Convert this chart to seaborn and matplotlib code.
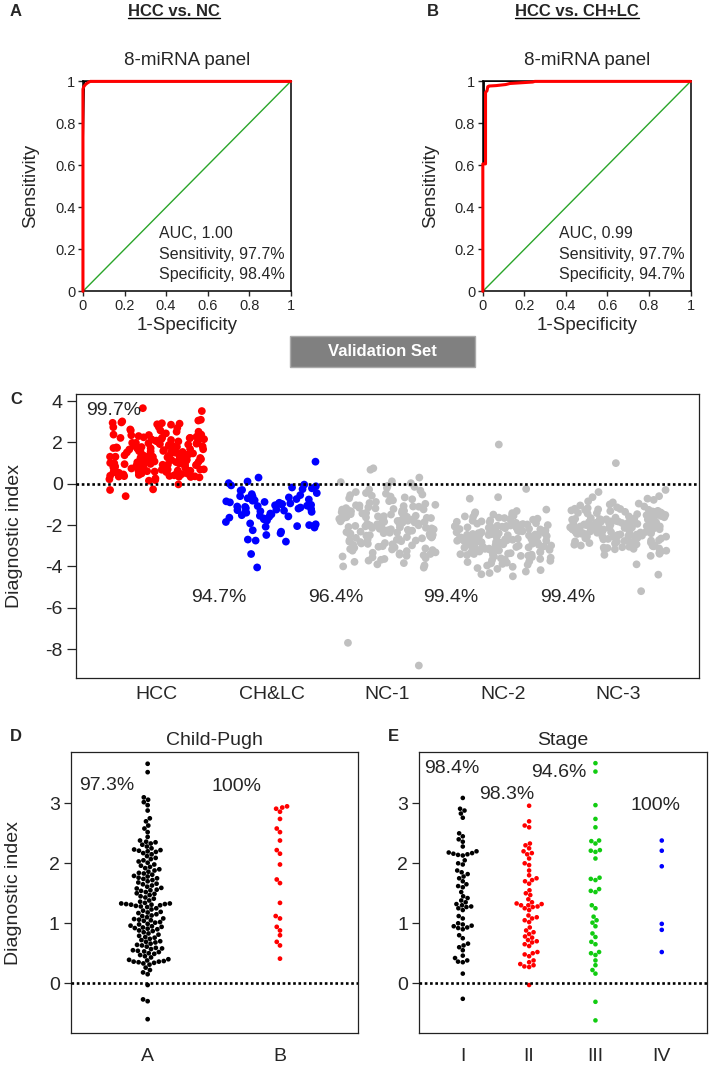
import numpy as np
import pandas as pd
import matplotlib
matplotlib.use('Agg')
import matplotlib.pyplot as plt
from matplotlib.lines import Line2D
from matplotlib.patches import Rectangle
import seaborn as sns

roc_a_fpr = [0, 0, 0.004, 0.008, 0.012, 0.018, 0.025, 0.035, 1.0]
roc_a_tpr = [0, 0.963, 0.975, 0.980, 0.985, 0.990, 0.995, 1.0, 1.0]
roc_a_black_fpr = [0, 0, 0.006, 1.0]
roc_a_black_tpr = [0, 0.70, 1.0, 1.0]
roc_b_fpr = [0, 0, 0.013, 0.013, 0.020, 0.024, 0.030, 0.064, 0.110, 0.130, 0.240, 0.250, 1.0]
roc_b_tpr = [0, 0.607, 0.607, 0.948, 0.955, 0.975, 0.978, 0.980, 0.985, 0.990, 0.997, 1.0, 1.0]
roc_b_black_fpr = [0, 0, 0.005, 0.005, 1.0]
roc_b_black_tpr = [0, 0.607, 0.607, 1.0, 1.0]
roc_a_stats = ['AUC, 1.00', 'Sensitivity, 97.7%', 'Specificity, 98.4%']
roc_b_stats = ['AUC, 0.99', 'Sensitivity, 97.7%', 'Specificity, 94.7%']

# === Diagnostic index values ===
cp_a = [-0.60, -0.30, -0.27, -0.03, 0.15, 0.18, 0.22, 0.26,
        0.31, 0.33, 0.34, 0.35, 0.36, 0.36, 0.37, 0.38, 0.39, 0.40,
        0.43, 0.45, 0.47, 0.49, 0.50, 0.52, 0.53, 0.54, 0.55, 0.57, 0.58, 0.59,
        0.61, 0.63, 0.64, 0.66, 0.68, 0.69, 0.70, 0.72, 0.74, 0.76, 0.77, 0.79,
        0.81, 0.83, 0.85, 0.87, 0.88, 0.90, 0.91, 0.92, 0.93, 0.94, 0.95, 0.96, 0.98, 0.99,
        1.01, 1.02, 1.04, 1.05, 1.06, 1.07, 1.08, 1.10, 1.12, 1.13, 1.15, 1.17, 1.18, 1.19,
        1.21, 1.23, 1.25, 1.27, 1.28, 1.29, 1.30, 1.31, 1.31, 1.32, 1.32, 1.33, 1.33, 1.34, 1.36, 1.38,
        1.41, 1.43, 1.45, 1.47, 1.49, 1.50, 1.52, 1.54, 1.55, 1.56, 1.58, 1.59,
        1.61, 1.63, 1.65, 1.66, 1.68, 1.70, 1.72, 1.74, 1.75, 1.76, 1.78, 1.79,
        1.81, 1.83, 1.84, 1.86, 1.88, 1.90, 1.92, 1.94, 1.96, 1.98,
        2.01, 2.03, 2.05, 2.07, 2.09, 2.12, 2.15, 2.17, 2.19, 2.20,
        2.21, 2.22, 2.23, 2.25, 2.28, 2.31, 2.33, 2.35, 2.36, 2.38,
        2.44, 2.52, 2.58, 2.63, 2.70, 2.75, 2.88, 2.97, 3.02, 3.06, 3.10, 3.52, 3.66]
cp_b = [2.95, 2.93, 2.91, 2.86, 2.74, 2.58, 2.52, 2.38, 2.22, 2.16, 1.98,
        1.73, 1.67, 1.34, 1.12, 1.08, 0.94, 0.88, 0.80, 0.69, 0.63, 0.41]

stage_i = [3.09, 2.91, 2.88, 2.83, 2.76, 2.50, 2.45, 2.40, 2.36, 2.28,
           2.20, 2.18, 2.17, 2.16, 2.15, 2.14, 2.13, 2.05, 2.00, 1.98,
           1.88, 1.85, 1.82, 1.78, 1.75, 1.70, 1.65, 1.62, 1.60, 1.52,
           1.45, 1.42, 1.38, 1.35, 1.32, 1.30, 1.28, 1.27, 1.25, 1.22,
           1.12, 1.08, 1.00, 0.98, 0.96, 0.95, 0.93, 0.92, 0.90, 0.80,
           0.75, 0.66, 0.63, 0.60, 0.55, 0.46, 0.42, 0.38, 0.36, 0.35, 0.16, -0.26]
stage_ii = [2.96, 2.70, 2.63, 2.60, 2.33, 2.30, 2.25, 2.20, 2.17, 2.15,
            2.08, 2.00, 1.97, 1.88, 1.80, 1.75, 1.72, 1.70, 1.66, 1.55,
            1.50, 1.47, 1.40, 1.35, 1.33, 1.32, 1.30, 1.30, 1.28, 1.27,
            1.25, 1.22, 1.13, 1.10, 1.08, 1.05, 1.02, 0.93, 0.88, 0.85,
            0.82, 0.78, 0.76, 0.72, 0.70, 0.68, 0.65, 0.62, 0.52, 0.50,
            0.48, 0.45, 0.38, 0.35, 0.32, 0.30, 0.28, 0.27, -0.03]
stage_iii = [3.67, 3.53, 2.97, 2.74, 2.60, 2.38, 2.37, 2.33, 2.22, 2.21,
             2.19, 2.08, 1.76, 1.74, 1.72, 1.57, 1.54, 1.52, 1.30, 1.25,
             1.11, 1.05, 1.01, 0.95, 0.83, 0.77, 0.69, 0.65, 0.52, 0.50,
             0.47, 0.38, 0.30, 0.22, 0.16, -0.31, -0.62]
stage_iv = [2.38, 2.21, 1.95, 0.99, 0.89, 0.52]

chlc = [1.07, 0.30, 0.11, 0.03, -0.04, -0.08, -0.12, -0.18, -0.22, -0.26,
        -0.30, -0.33, -0.45, -0.50, -0.55, -0.60, -0.62, -0.66, -0.70, -0.74,
        -0.76, -0.80, -0.82, -0.85, -0.88, -0.90, -0.92, -0.95, -0.97, -0.98,
        -1.00, -1.02, -1.04, -1.06, -1.08, -1.10, -1.12, -1.15, -1.18, -1.20,
        -1.22, -1.25, -1.28, -1.30, -1.33, -1.36, -1.38, -1.40, -1.44, -1.48,
        -1.52, -1.55, -1.58, -1.60, -1.64, -1.68, -1.72, -1.78, -1.85, -1.92,
        -1.96, -2.00, -2.02, -2.05, -2.08, -2.12, -2.25, -2.32, -2.40, -2.48,
        -2.70, -2.75, -2.80, -3.40, -4.05]
nc1 = [0.75, 0.68, 0.30, 0.12, 0.08, 0.03,
       -0.10, -0.15, -0.20, -0.28, -0.33, -0.40, -0.45, -0.48,
       -0.52, -0.55, -0.58, -0.62, -0.66, -0.70, -0.75, -0.80, -0.84, -0.88, -0.93, -0.97,
       -1.02, -1.04, -1.05, -1.08, -1.10, -1.11, -1.14, -1.16, -1.18, -1.19, -1.22, -1.24, -1.25,
       -1.27, -1.30, -1.31, -1.33, -1.36, -1.38, -1.40, -1.41, -1.44, -1.46, -1.47, -1.49,
       -1.51, -1.52, -1.54, -1.55, -1.57, -1.58, -1.60, -1.62, -1.63, -1.65, -1.66, -1.68,
       -1.70, -1.71, -1.72, -1.74, -1.76, -1.77, -1.79, -1.80, -1.82, -1.84, -1.85, -1.87,
       -1.88, -1.90, -1.92, -1.94, -1.96, -1.98,
       -2.01, -2.02, -2.04, -2.06, -2.07, -2.09, -2.11, -2.13, -2.14, -2.16, -2.18, -2.20,
       -2.21, -2.23, -2.25, -2.27, -2.28, -2.30, -2.32, -2.34, -2.36, -2.37, -2.39, -2.41,
       -2.43, -2.45, -2.47, -2.49,
       -2.51, -2.53, -2.56, -2.58, -2.60, -2.62, -2.64, -2.67, -2.69, -2.71, -2.73, -2.75,
       -2.78, -2.80, -2.82, -2.84, -2.87, -2.89, -2.91, -2.93, -2.96, -2.98,
       -3.02, -3.05, -3.08, -3.10, -3.13, -3.16, -3.18, -3.21, -3.24, -3.26, -3.29, -3.32,
       -3.34, -3.37, -3.40, -3.43, -3.46, -3.49,
       -3.52, -3.56, -3.60, -3.64, -3.68, -3.72, -3.78, -3.84, -3.90, -3.95, -4.00, -4.06,
       -7.70, -8.80]
nc2 = [1.90, -0.25, -0.65, -0.72,
       -1.25, -1.32, -1.38, -1.42, -1.46, -1.49,
       -1.52, -1.55, -1.58, -1.61, -1.64, -1.66, -1.69, -1.72, -1.74, -1.77,
       -1.79, -1.82, -1.84, -1.86, -1.89, -1.91, -1.93, -1.95, -1.97, -1.99,
       -2.00, -2.02, -2.03, -2.04, -2.06, -2.07, -2.08, -2.10, -2.11, -2.13,
       -2.14, -2.15, -2.17, -2.18, -2.19, -2.21, -2.22, -2.23, -2.25, -2.26,
       -2.27, -2.29, -2.30, -2.31, -2.32, -2.34, -2.35, -2.36, -2.38, -2.39,
       -2.40, -2.42, -2.43, -2.44, -2.46, -2.47, -2.48, -2.49,
       -2.50, -2.51, -2.52, -2.53, -2.54, -2.55, -2.57, -2.58, -2.59, -2.60,
       -2.61, -2.62, -2.63, -2.64, -2.65, -2.66, -2.67, -2.68, -2.69, -2.70,
       -2.71, -2.72, -2.73, -2.74, -2.75, -2.76, -2.77, -2.78, -2.79, -2.80,
       -2.81, -2.82, -2.83, -2.84, -2.86, -2.87, -2.88, -2.89, -2.90, -2.92,
       -2.93, -2.94, -2.96, -2.97, -2.99,
       -3.00, -3.02, -3.03, -3.05, -3.06, -3.08, -3.09, -3.11, -3.12, -3.14,
       -3.15, -3.17, -3.18, -3.20, -3.22, -3.23, -3.25, -3.26, -3.28, -3.30,
       -3.31, -3.33, -3.35, -3.36, -3.38, -3.40, -3.41, -3.43, -3.45, -3.46,
       -3.48, -3.49,
       -3.52, -3.55, -3.58, -3.61, -3.64, -3.67, -3.70, -3.73, -3.76, -3.79,
       -3.82, -3.85, -3.88, -3.92, -3.96,
       -4.02, -4.08, -4.12, -4.18, -4.25, -4.32, -4.38, -4.48]
nc3 = [1.00, -0.30, -0.40, -0.60, -0.65,
       -0.72, -0.78, -0.85, -0.90, -0.96, -1.00, -1.05, -1.10, -1.14, -1.18,
       -1.21, -1.22, -1.24, -1.26, -1.27, -1.29, -1.31, -1.32, -1.34, -1.36,
       -1.37, -1.39, -1.41, -1.42, -1.44, -1.46, -1.47, -1.49, -1.51, -1.52,
       -1.54, -1.56, -1.58, -1.60, -1.62, -1.64, -1.66, -1.68,
       -1.70, -1.71, -1.72, -1.73, -1.74, -1.75, -1.76, -1.78, -1.79, -1.80,
       -1.81, -1.82, -1.83, -1.84, -1.86, -1.87, -1.88, -1.89, -1.90, -1.91,
       -1.92, -1.94, -1.95, -1.96, -1.97, -1.98, -1.99, -2.00, -2.02, -2.03,
       -2.04, -2.05, -2.06, -2.07, -2.08, -2.10, -2.11, -2.12, -2.13, -2.14,
       -2.15, -2.16, -2.17, -2.18, -2.19,
       -2.20, -2.21, -2.22, -2.24, -2.25, -2.26, -2.27, -2.28, -2.30, -2.31,
       -2.32, -2.33, -2.34, -2.36, -2.37, -2.38, -2.39, -2.40, -2.42, -2.43,
       -2.44, -2.45, -2.46, -2.48, -2.49, -2.50, -2.51, -2.52, -2.54, -2.55,
       -2.56, -2.57, -2.58, -2.60, -2.61, -2.62, -2.64, -2.65, -2.67, -2.69,
       -2.71, -2.73, -2.75, -2.77, -2.79, -2.81, -2.83, -2.85, -2.87, -2.89,
       -2.91, -2.93, -2.95, -2.97, -2.99, -3.01, -3.03, -3.05, -3.07, -3.09,
       -3.11, -3.13, -3.15, -3.17, -3.19,
       -3.24, -3.29, -3.34, -3.39, -3.44, -3.49, -3.90, -4.40, -5.20]

c_groups = ['HCC', 'CH&LC', 'NC-1', 'NC-2', 'NC-3']
c_colors = ['#ff0000', '#0000ff', '#c0c0c0', '#c0c0c0', '#c0c0c0']
c_pcts = ['99.7%', '94.7%', '96.4%', '99.4%', '99.4%']
cp_groups = ['A', 'B']
cp_colors = ['black', '#ff0000']
cp_pcts = ['97.3%', '100%']
stage_groups = ['I', 'II', 'III', 'IV']
stage_colors = ['black', '#ff0000', '#11cc11', '#0000ff']
stage_pcts = ['98.4%', '98.3%', '94.6%', '100%']

# === Tables ===
c_vals = [cp_a + cp_b, chlc, nc1, nc2, nc3]
df_c = pd.concat([pd.DataFrame({'group': g, 'value': v}) for g, v in zip(c_groups, c_vals)])
df_d = pd.concat([pd.DataFrame({'group': g, 'value': v}) for g, v in zip(cp_groups, [cp_a, cp_b])])
df_e = pd.concat([pd.DataFrame({'group': g, 'value': v})
                  for g, v in zip(stage_groups, [stage_i, stage_ii, stage_iii, stage_iv])])

sns.set_style('ticks')
plt.rcParams['font.family'] = ['Liberation Sans', 'DejaVu Sans']
plt.rcParams['axes.unicode_minus'] = False
np.random.seed(11)  # only for the strip jitter in panel C

fig = plt.figure(figsize=(7.09, 10.71), dpi=100)
ax_a = fig.add_axes([0.117, 0.728, 0.293, 0.196])
ax_b = fig.add_axes([0.681, 0.728, 0.293, 0.196])
ax_c = fig.add_axes([0.107, 0.367, 0.879, 0.265])
ax_d = fig.add_axes([0.100, 0.0355, 0.405, 0.262])
ax_e = fig.add_axes([0.591, 0.0355, 0.406, 0.262])


def draw_roc(ax, fpr, tpr, bfpr, btpr, stats):
    sns.lineplot(x=[0, 1], y=[0, 1], ax=ax, color='#2aa52a', lw=1.0)
    sns.lineplot(x=bfpr, y=btpr, ax=ax, color='black', lw=1.3, sort=False, estimator=None)
    sns.lineplot(x=fpr, y=tpr, ax=ax, color='#ff0000', lw=2.2, sort=False,
                 estimator=None, clip_on=False, zorder=5)
    ax.set_xlim(0, 1)
    ax.set_ylim(0, 1)
    ticks = [0, 0.2, 0.4, 0.6, 0.8, 1.0]
    labels = ['0', '0.2', '0.4', '0.6', '0.8', '1']
    ax.set_xticks(ticks)
    ax.set_xticklabels(labels)
    ax.set_yticks(ticks)
    ax.set_yticklabels(labels)
    ax.tick_params(direction='out', length=3.5, width=1, labelsize=10.5, pad=2)
    for s in ax.spines.values():
        s.set_linewidth(1.1)
        s.set_color('black')
    ax.set_xlabel('1-Specificity', fontsize=13.5)
    ax.set_ylabel('Sensitivity', fontsize=13.5)
    ax.xaxis.set_label_coords(0.5, -0.12)
    ax.yaxis.set_label_coords(-0.21, 0.5)
    ax.text(0.5, 1.1, '8-miRNA panel', transform=ax.transAxes, ha='center',
            va='center', fontsize=13.5)
    for txt, yy in zip(stats, [0.276, 0.174, 0.081]):
        ax.text(0.365, yy, txt, fontsize=11.5, va='center', ha='left')


draw_roc(ax_a, roc_a_fpr, roc_a_tpr, roc_a_black_fpr, roc_a_black_tpr, roc_a_stats)
draw_roc(ax_b, roc_b_fpr, roc_b_tpr, roc_b_black_fpr, roc_b_black_tpr, roc_b_stats)

# === Panel C ===
sns.stripplot(data=df_c, x='group', y='value', hue='group', order=c_groups,
              hue_order=c_groups, palette=dict(zip(c_groups, c_colors)),
              jitter=0.42, size=5.6, linewidth=0, legend=False, ax=ax_c, zorder=2)
ax_c.axhline(0, color='black', ls=(0, (1, 1)), lw=1.9, zorder=6)
ax_c.set_xlim(-0.7, 4.7)
ax_c.set_ylim(-9.4, 4.34)
ax_c.set_yticks([4, 2, 0, -2, -4, -6, -8])
ax_c.tick_params(axis='y', direction='out', length=6.5, width=0.9, labelsize=14, pad=3)
ax_c.tick_params(axis='x', length=0, labelsize=14, pad=6)
ax_c.set_xlabel('')
ax_c.set_ylabel('Diagnostic index', fontsize=14)
ax_c.yaxis.set_label_coords(-0.085, 0.5)
ax_c.text(-0.61, 3.57, c_pcts[0], fontsize=14, ha='left', va='center')
for xx, p in zip([0.54, 1.55, 2.55, 3.56], c_pcts[1:]):
    ax_c.text(xx, -5.5, p, fontsize=14, ha='center', va='center')

# === Panels D and E ===
sns.swarmplot(data=df_d, x='group', y='value', hue='group', order=cp_groups,
              palette=dict(zip(cp_groups, cp_colors)), size=3.4, linewidth=0,
              legend=False, ax=ax_d)
sns.swarmplot(data=df_e, x='group', y='value', hue='group', order=stage_groups,
              palette=dict(zip(stage_groups, stage_colors)), size=3.3, linewidth=0,
              legend=False, ax=ax_e)
ax_d.set_xlim(-0.58, 1.59)
ax_e.set_xlim(-0.66, 3.68)
for ax, title in [(ax_d, 'Child-Pugh'), (ax_e, 'Stage')]:
    ax.axhline(0, color='black', ls=(0, (1, 1)), lw=1.9, zorder=6)
    ax.set_ylim(-0.83, 3.85)
    ax.set_yticks([0, 1, 2, 3])
    ax.tick_params(axis='y', direction='out', length=5, width=0.9, labelsize=14, pad=3)
    ax.tick_params(axis='x', length=0, labelsize=14, pad=11)
    ax.set_xlabel('')
    ax.set_ylabel('')
    ax.set_title(title, fontsize=14, pad=5)
ax_d.set_ylabel('Diagnostic index', fontsize=14)
ax_d.yaxis.set_label_coords(-0.17, 0.5)
ax_d.text(-0.31, 3.3, cp_pcts[0], fontsize=14, ha='center', va='center')
ax_d.text(0.67, 3.28, cp_pcts[1], fontsize=14, ha='center', va='center')
for xx, yy, p in zip([-0.17, 0.66, 1.45, 2.9], [3.58, 3.15, 3.52, 2.97], stage_pcts):
    ax_e.text(xx, yy, p, fontsize=14, ha='center', va='center')

for ax in [ax_c, ax_d, ax_e]:
    for s in ax.spines.values():
        s.set_visible(True)
        s.set_linewidth(0.9)
        s.set_color('#222222')

# === Headers and panel letters ===
for letter, x, y in [('A', 0.014, 0.989), ('B', 0.602, 0.989), ('C', 0.014, 0.627),
                     ('D', 0.014, 0.312), ('E', 0.547, 0.312)]:
    fig.text(x, y, letter, fontsize=12, fontweight='bold', ha='left', va='center')
headers = [fig.text(0.245, 0.989, 'HCC vs. NC', fontsize=12, fontweight='bold',
                    ha='center', va='center'),
           fig.text(0.814, 0.989, 'HCC vs. CH+LC', fontsize=12, fontweight='bold',
                    ha='center', va='center')]

fig.add_artist(Rectangle((0.409, 0.657), 0.261, 0.029, transform=fig.transFigure,
                         facecolor='#808080', edgecolor='#aaaaaa', lw=1))
fig.text(0.539, 0.6715, 'Validation Set', fontsize=12, fontweight='bold',
         color='white', ha='center', va='center')

fig.canvas.draw()
renderer = fig.canvas.get_renderer()
for t in headers:
    bb = t.get_window_extent(renderer).transformed(fig.transFigure.inverted())
    fig.add_artist(Line2D([bb.x0, bb.x1], [bb.y0 + 0.001, bb.y0 + 0.001],
                          transform=fig.transFigure, color='black', lw=1.0))

fig.savefig('out.png', dpi=100)
